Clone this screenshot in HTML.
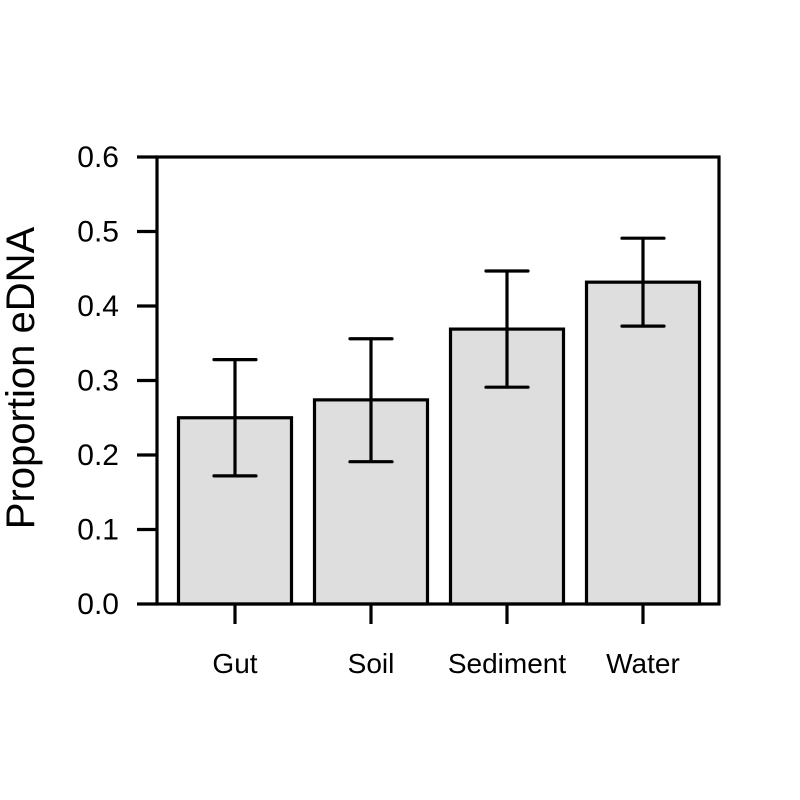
<!DOCTYPE html>
<html><head><meta charset="utf-8"><style>body{margin:0;background:#fff}svg{display:block}text{font-family:"Liberation Sans",Arial,sans-serif;fill:#000}</style></head>
<body>
<svg id="chart" width="800" height="800" xmlns="http://www.w3.org/2000/svg"></svg>
<script>
const categories = ["Gut","Soil","Sediment","Water"];
const values = [0.25,0.274,0.369,0.432];
const upper = [0.328,0.356,0.447,0.491];
const lower = [0.172,0.191,0.291,0.373];
const yTicks = [0,0.1,0.2,0.3,0.4,0.5,0.6];
const yTickLabels = ["0.0","0.1","0.2","0.3","0.4","0.5","0.6"];

const svg = document.getElementById('chart');
const NS = 'http://www.w3.org/2000/svg';
const X0 = 157, X1 = 719, Y0 = 604, Y1 = 157;
const y = v => Y0 - (v / 0.6) * (Y0 - Y1);
const step = 136, first = 235, bw = 113;
const x = i => first + i * step;
function mk(tag, attrs, name) {
  const e = document.createElementNS(NS, tag);
  for (const k in attrs) e.setAttribute(k, attrs[k]);
  
  
  svg.appendChild(e);
  return e;
}
categories.forEach((c, i) => {
  mk('rect', {x: x(i) - bw/2, y: y(values[i]), width: bw, height: Y0 - y(values[i]), fill: '#dedede', stroke: '#000', 'stroke-width': 3.2}, 'bar-' + c.toLowerCase());
  mk('line', {x1: x(i), x2: x(i), y1: y(upper[i]), y2: y(lower[i]), stroke: '#000', 'stroke-width': 3.2}, 'error-bar-' + c.toLowerCase());
  mk('line', {x1: x(i) - 21, x2: x(i) + 21, y1: y(upper[i]), y2: y(upper[i]), stroke: '#000', 'stroke-width': 3.2, 'stroke-linecap': 'round'}, 'error-cap-upper');
  mk('line', {x1: x(i) - 21, x2: x(i) + 21, y1: y(lower[i]), y2: y(lower[i]), stroke: '#000', 'stroke-width': 3.2, 'stroke-linecap': 'round'}, 'error-cap-lower');
  mk('line', {x1: x(i), x2: x(i), y1: Y0, y2: Y0 + 20, stroke: '#000', 'stroke-width': 3.2}, 'x-tick');
  const t = mk('text', {x: x(i), y: 673, 'text-anchor': 'middle', 'font-size': 28}, 'x-tick-label');
  t.textContent = c;
});
mk('rect', {x: X0, y: Y1, width: X1 - X0, height: Y0 - Y1, fill: 'none', stroke: '#000', 'stroke-width': 3.2}, 'plot-frame');
yTicks.forEach((v, i) => {
  mk('line', {x1: 137, x2: X0, y1: y(v), y2: y(v), stroke: '#000', 'stroke-width': 3.2}, 'y-tick');
  const t = mk('text', {x: 119, y: y(v) + 10, 'text-anchor': 'end', 'font-size': 30}, 'y-tick-label');
  t.textContent = yTickLabels[i];
});
const yt = mk('text', {x: 0, y: 0, 'text-anchor': 'middle', 'font-size': 40, transform: 'translate(34,378) rotate(-90)'}, 'y-axis-title');
yt.textContent = 'Proportion eDNA';
</script>
</body></html>
